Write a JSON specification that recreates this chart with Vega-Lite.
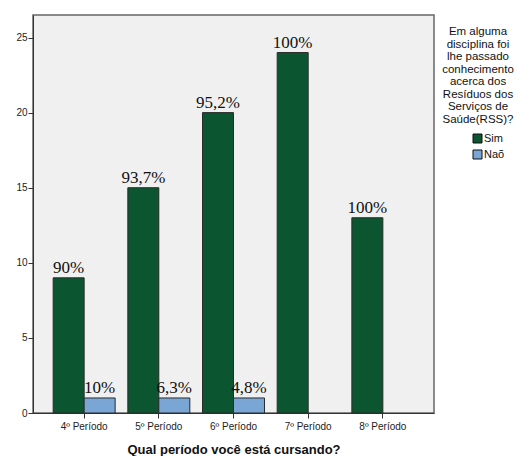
{
  "$schema": "https://vega.github.io/schema/vega-lite/v6.json",
  "width": 401,
  "height": 398,
  "autosize": {"type": "none"},
  "padding": {"left": 33, "top": 15, "right": 88, "bottom": 43},
  "background": "white",
  "data": {
    "values": [
      {"periodo": "4º Período", "resposta": "Sim", "n": 9, "rotulo": "90%"},
      {"periodo": "4º Período", "resposta": "Naõ", "n": 1, "rotulo": "10%"},
      {"periodo": "5º Período", "resposta": "Sim", "n": 15, "rotulo": "93,7%"},
      {"periodo": "5º Período", "resposta": "Naõ", "n": 1, "rotulo": "6,3%"},
      {"periodo": "6º Período", "resposta": "Sim", "n": 20, "rotulo": "95,2%"},
      {"periodo": "6º Período", "resposta": "Naõ", "n": 1, "rotulo": "4,8%"},
      {"periodo": "7º Período", "resposta": "Sim", "n": 24, "rotulo": "100%"},
      {"periodo": "8º Período", "resposta": "Sim", "n": 13, "rotulo": "100%"}
    ]
  },
  "encoding": {
    "x": {
      "field": "periodo", "type": "nominal",
      "sort": ["4º Período", "5º Período", "6º Período", "7º Período", "8º Período"],
      "scale": {"paddingInner": 0.17, "paddingOuter": 0.27},
      "axis": {
        "title": "Qual período você está cursando?",
        "labelAngle": 0,
        "labelFont": "Liberation Sans", "labelFontSize": 10, "labelColor": "#222",
        "titleFont": "Liberation Sans", "titleFontSize": 13, "titleFontWeight": "bold", "titleColor": "#111",
        "titlePadding": 12,
        "tickSize": 5, "tickColor": "#333", "domainColor": "#333", "labelPadding": 3
      }
    },
    "xOffset": {"field": "resposta", "type": "nominal", "sort": ["Sim", "Naõ"], "scale": {"domain": ["Sim", "Naõ"], "paddingInner": 0, "paddingOuter": 0}},
    "y": {
      "field": "n", "type": "quantitative",
      "scale": {"domain": [0, 26.5], "nice": false},
      "axis": {
        "title": null, "values": [0, 5, 10, 15, 20, 25], "grid": false,
        "labelFont": "Liberation Sans", "labelFontSize": 10, "labelColor": "#222",
        "tickSize": 5, "tickColor": "#333", "domainColor": "#333", "labelPadding": 1
      }
    }
  },
  "layer": [
    {
      "mark": {"type": "bar", "stroke": "#2a2a2a", "strokeWidth": 1},
      "encoding": {
        "color": {
          "field": "resposta", "type": "nominal",
          "scale": {"domain": ["Sim", "Naõ"], "range": ["#0b5630", "#7aa6d6"]},
          "legend": {
            "title": ["Em alguma", "disciplina foi", "lhe passado", "conhecimento", "acerca dos", "Resíduos dos", "Serviços de", "Saúde(RSS)?"],
            "orient": "none", "legendX": 409, "legendY": 11,
            "titleFont": "Liberation Sans", "titleFontSize": 11.5, "titleFontWeight": "normal", "titleColor": "#111",
            "titleAlign": "center", "titleAnchor": "middle", "titleLineHeight": 12.5, "titlePadding": 8,
            "labelFont": "Liberation Sans", "labelFontSize": 11, "labelColor": "#111", "labelOffset": 1,
            "symbolType": "square", "symbolSize": 81, "symbolStrokeColor": "#111", "symbolStrokeWidth": 1,
            "symbolOffset": 21, "rowPadding": 3, "padding": 0
          }
        }
      }
    },
    {
      "mark": {"type": "text", "baseline": "alphabetic", "dy": -5, "font": "Liberation Serif", "fontSize": 17, "color": "#111"},
      "encoding": {"text": {"field": "rotulo"}}
    }
  ],
  "config": {
    "view": {"fill": "#f0f0f0", "stroke": "#666", "strokeWidth": 1.5}
  }
}
